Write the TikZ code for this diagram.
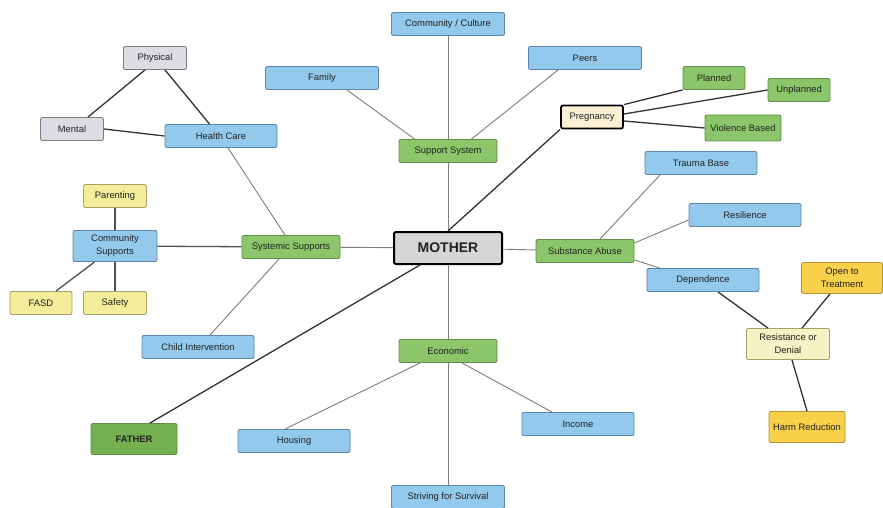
\documentclass[tikz,border=0pt]{standalone}
\usepackage{fontspec}
\setmainfont{Liberation Sans}
\usepackage{xcolor}
\usetikzlibrary{positioning, calc}
\definecolor{boxBlue}{HTML}{93C9EC}
\definecolor{lineBlue}{HTML}{5E86A8}
\definecolor{boxGreen}{HTML}{8CC66A}
\definecolor{lineGreen}{HTML}{5F8F45}
\definecolor{boxDkGreen}{HTML}{74B04F}
\definecolor{boxGray}{HTML}{DCDDE2}
\definecolor{lineGray}{HTML}{7C7C82}
\definecolor{boxYellow}{HTML}{F3EC9A}
\definecolor{boxPale}{HTML}{F5F2C6}
\definecolor{lineYellow}{HTML}{A9A063}
\definecolor{boxGold}{HTML}{F9D04A}
\definecolor{lineGold}{HTML}{B39433}
\definecolor{boxCream}{HTML}{FBF0D6}
\definecolor{boxMother}{HTML}{D6D6D6}
\definecolor{bodyText}{HTML}{222222}
\definecolor{linkGray}{HTML}{857A72}
\definecolor{linkDark}{HTML}{333333}

\begin{document}
\begin{tikzpicture}[x=1pt, y=-1pt,
  every node/.style={font=\fontsize{9.4}{13}\selectfont, text=bodyText},
  base/.style={rectangle, rounded corners=2pt, line width=0.9pt, align=center,
               minimum height=23pt, inner sep=1pt},
  bluebox/.style={base, fill=boxBlue, draw=lineBlue, minimum width=112pt},
  greenbox/.style={base, fill=boxGreen, draw=lineGreen, minimum width=98pt},
  graybox/.style={base, fill=boxGray, draw=lineGray, minimum width=63pt},
  yellowbox/.style={base, fill=boxYellow, draw=lineYellow, minimum width=63pt},
  goldbox/.style={base, fill=boxGold, draw=lineGold, minimum height=31pt},
  link/.style={draw=linkGray, line width=0.9pt},
  strong/.style={draw=linkDark, line width=1.3pt},
]
  \useasboundingbox (0,0) rectangle (883,508);

  % centre
  \node[base, fill=boxMother, draw=black, line width=2pt, minimum width=108pt,
        minimum height=32pt, font=\fontsize{14}{16}\selectfont\bfseries]
        at (448,248) (mother) {MOTHER};

  % support system
  \node[bluebox, minimum width=113pt] at (448,24) (culture) {Community / Culture};
  \node[bluebox, minimum width=113pt] at (322,78) (family) {Family};
  \node[bluebox, minimum width=113pt] at (585,58) (peers) {Peers};
  \node[greenbox] at (448,151) (support) {Support System};

  % health care
  \node[graybox] at (155,58) (physical) {Physical};
  \node[graybox] at (72,129) (mental) {Mental};
  \node[bluebox] at (221,136) (health) {Health Care};

  % systemic supports
  \node[yellowbox] at (115,196) (parenting) {Parenting};
  \node[bluebox, minimum width=84pt, minimum height=31pt] at (115,246) (community) {Community\\Supports};
  \node[yellowbox, minimum width=62pt] at (41,303) (fasd) {FASD};
  \node[yellowbox] at (115,303) (safety) {Safety};
  \node[greenbox] at (291,247) (systemic) {Systemic Supports};
  \node[bluebox] at (198,347) (child) {Child Intervention};

  % pregnancy
  \node[base, fill=boxCream, draw=black, line width=1.8pt, minimum width=62pt]
        at (592,117) (pregnancy) {Pregnancy};
  \node[greenbox, minimum width=62pt] at (714,78) (planned) {Planned};
  \node[greenbox, minimum width=62pt] at (799,90) (unplanned) {Unplanned};
  \node[greenbox, minimum width=76pt, minimum height=26pt] at (743,128) (violence) {Violence Based};

  % substance abuse
  \node[greenbox] at (585,251) (substance) {Substance Abuse};
  \node[bluebox] at (701,163) (trauma) {Trauma Base};
  \node[bluebox] at (745,215) (resilience) {Resilience};
  \node[bluebox] at (703,280) (dependence) {Dependence};
  \node[goldbox, minimum width=81pt] at (842,278) (open) {Open to\\Treatment};
  \node[base, fill=boxPale, draw=lineYellow, minimum width=83pt, minimum height=31pt]
        at (788,344) (resistance) {Resistance or\\Denial};
  \node[goldbox, minimum width=76pt] at (807,427) (harm) {Harm Reduction};

  % economic
  \node[greenbox] at (448,351) (economic) {Economic};
  \node[bluebox] at (294,441) (housing) {Housing};
  \node[bluebox] at (578,424) (income) {Income};
  \node[bluebox, minimum width=113pt] at (448,497) (survival) {Striving for Survival};

  % father
  \node[base, fill=boxDkGreen, draw=lineGreen, minimum width=86pt, minimum height=31pt,
        font=\fontsize{9.4}{13}\selectfont\bfseries] at (134,439) (father) {FATHER};

  % links
  \draw[link] (culture) -- (support);
  \draw[link] (support) -- (mother);
  \draw[link] ($(family.south east)+(-32,0)$) -- ($(support.north west)+(16,0)$);
  \draw[link] ($(peers.south west)+(30,0)$) -- ($(support.north east)+(-26,0)$);

  \draw[strong] ($(physical.south)+(-10,0)$) -- ($(mental.north east)+(-16,0)$);
  \draw[strong] ($(physical.south)+(10,0)$) -- ($(health.north west)+(45,0)$);
  \draw[strong] (mental.east) -- (health.west);
  \draw[link] ($(health.south)+(7,0)$) -- ($(systemic.north)+(-6,0)$);

  \draw[strong, draw=linkDark!85] (parenting) -- (community);
  \draw[strong, draw=linkDark!85] (community) -- (systemic);
  \draw[strong, draw=linkDark!85] ($(community.south west)+(22,0)$) -- ($(fasd.north)+(15,0)$);
  \draw[strong, draw=linkDark!85] (community) -- (safety);
  \draw[link] (systemic) -- (mother);
  \draw[link] ($(systemic.south)+(-12,0)$) -- ($(child.north)+(12,0)$);

  \draw[strong] (pregnancy.south west) -- (mother.north);
  \draw[strong] (pregnancy.north east) -- (planned.south west);
  \draw[strong] ($(pregnancy.east)+(0,-3)$) -- (unplanned.west);
  \draw[strong] ($(pregnancy.east)+(0,4)$) -- (violence.west);

  \draw[link] (mother) -- (substance);
  \draw[link] ($(substance.north)+(15,0)$) -- ($(trauma.south)+(-41,0)$);
  \draw[link] ($(substance.east)+(0,-8)$) -- ($(resilience.south west)+(0,-7)$);
  \draw[link] ($(substance.south east)+(0,-3)$) -- ($(dependence.north west)+(13,0)$);
  \draw[strong] ($(dependence.south)+(15,0)$) -- ($(resistance.north)+(-20,0)$);
  \draw[strong] ($(open.south)+(-12,0)$) -- ($(resistance.north)+(14,0)$);
  \draw[strong] ($(resistance.south)+(4,0)$) -- (harm.north);

  \draw[strong] ($(mother.south)+(-28,0)$) -- ($(father.north)+(16,0)$);

  \draw[link] (mother) -- (economic);
  \draw[link] (economic) -- (survival);
  \draw[link] ($(economic.south)+(-28,0)$) -- ($(housing.north)+(-9,0)$);
  \draw[link] ($(economic.south)+(14,0)$) -- ($(income.north)+(-26,0)$);
\end{tikzpicture}
\end{document}
